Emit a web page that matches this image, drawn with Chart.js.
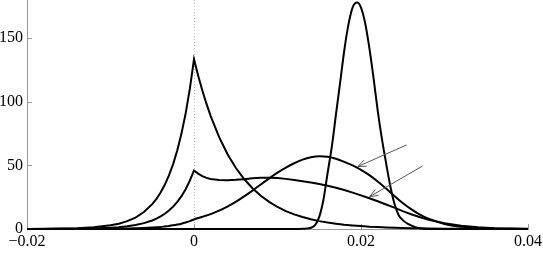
<!DOCTYPE html>
<html><head><meta charset="utf-8">
<script src="https://cdn.jsdelivr.net/npm/chart.js@4/dist/chart.umd.min.js"></script>
<style>html,body{margin:0;padding:0;background:#fff;overflow:hidden}</style>
</head><body>
<canvas id="c" width="543" height="273"></canvas>
<script>
// shared x grid for curves A, B, C
const xs = [-0.02,-0.018,-0.016,-0.014,-0.012,-0.010,-0.009,-0.008,-0.007,-0.006,-0.005,-0.0045,-0.004,-0.0035,-0.003,-0.0025,-0.002,-0.0015,-0.001,-0.0005,0,0.0005,0.001,0.0015,0.002,0.003,0.004,0.005,0.006,0.007,0.008,0.009,0.010,0.011,0.012,0.013,0.014,0.015,0.016,0.017,0.018,0.019,0.020,0.021,0.022,0.023,0.024,0.025,0.026,0.027,0.028,0.030,0.032,0.034,0.036,0.038,0.040];
// tall cusp at zero
const curveA = [0.06,0.13,0.3,0.6,1.3,2.9,4.2,6.2,9.0,13.3,19.5,23.6,28.7,34.7,42.1,51.0,61.9,75.0,90.9,110.1,133.5,120.5,108.8,98.3,88.8,72.4,59.0,48.1,39.3,32.0,26.1,21.3,17.3,14.1,11.5,9.4,7.7,6.2,5.1,4.2,3.4,2.8,2.3,1.8,1.5,1.2,1.0,0.8,0.65,0.5,0.43,0.29,0.19,0.13,0.08,0.06,0.04];
// small cusp + plateau
const curveB = [0.02,0.04,0.1,0.21,0.46,1.0,1.4,2.1,3.1,4.6,6.7,8.1,9.9,12.0,14.5,17.6,21.3,25.8,31.3,38.0,46.0,43.5,41.5,40.2,39.3,38.6,38.4,38.7,39.2,39.8,40.2,40.3,40.0,39.4,38.6,37.6,36.5,35.3,34.0,32.4,30.6,28.6,26.4,24.2,21.8,19.3,16.8,14.1,11.6,9.4,7.5,4.5,2.5,1.3,0.6,0.3,0.15];
// broad hump
const curveC = [0,0.01,0.02,0.03,0.07,0.16,0.24,0.35,0.5,0.75,1.1,1.3,1.6,2.0,2.4,2.9,3.5,4.2,5.1,6.2,7.5,8.6,9.6,10.6,11.7,14.4,17.6,21.3,25.6,30.2,35.0,39.8,44.3,48.3,51.7,54.5,56.4,57.2,56.8,55.2,52.8,50.0,46.5,42.3,37.3,31.8,26.0,20.5,15.6,11.5,8.3,4.0,1.8,0.8,0.35,0.15,0.05];
// narrow tall peak
const xD = [-0.02,0.012,0.0125,0.013,0.0135,0.014,0.0145,0.015,0.0155,0.016,0.0165,0.017,0.0175,0.018,0.0185,0.019,0.01955,0.020,0.0205,0.021,0.0215,0.022,0.0225,0.023,0.0235,0.024,0.0245,0.025,0.0255,0.026,0.0265,0.027,0.0275,0.028,0.04];
const curveD = [0,0,0,0.1,0.4,1.0,3.0,9.5,23,44,64.5,90,115,140.5,160.8,174.2,178,174.0,161.7,142.3,118.7,93,71,52,34,20,11,7,4.5,2.8,1.4,0.6,0.2,0.05,0];

const xTickValues = [-0.02, 0, 0.02, 0.04];
const xTickLabels = ['\u22120.02', '0', '0.02', '0.04'];
const yTickValues = [0, 50, 100, 150];
const yTickLabels = ['0', '50', '100', '150'];

const arrowTails = [[0.02547, 66.1], [0.02739, 49.6]];
const arrowHeads = [[0.01962, 49.1], [0.02104, 25.4]];

const pts = (xa, ya) => xa.map((x, i) => ({x, y: ya[i]}));

const decor = {
  id: 'decor',
  beforeDatasetsDraw(chart) {
    const {ctx, chartArea: a, scales: {x, y}} = chart;
    ctx.save();
    ctx.lineWidth = 1;
    ctx.strokeStyle = '#bdbdbd';
    ctx.setLineDash([1, 2]);
    const zx = Math.round(x.getPixelForValue(0)) + 0.5;
    ctx.beginPath(); ctx.moveTo(zx, a.bottom); ctx.lineTo(zx, a.top); ctx.stroke();
    ctx.setLineDash([]);
    ctx.strokeStyle = '#999';
    yTickValues.forEach(v => {
      if (v === 0) return;
      const py = Math.round(y.getPixelForValue(v)) + 0.5;
      ctx.beginPath(); ctx.moveTo(a.left, py); ctx.lineTo(a.left + 5, py); ctx.stroke();
    });
    xTickValues.forEach(v => {
      const px = Math.round(x.getPixelForValue(v)) + 0.5;
      ctx.beginPath(); ctx.moveTo(px, a.bottom); ctx.lineTo(px, a.bottom - 5); ctx.stroke();
    });
    ctx.restore();
  },
  afterDatasetsDraw(chart) {
    const {ctx, scales: {x, y}} = chart;
    ctx.save();
    ctx.strokeStyle = '#555';
    ctx.lineWidth = 1;
    arrowTails.forEach((t, i) => {
      const h = arrowHeads[i];
      const x1 = x.getPixelForValue(t[0]), y1 = y.getPixelForValue(t[1]);
      const x2 = x.getPixelForValue(h[0]), y2 = y.getPixelForValue(h[1]);
      ctx.beginPath(); ctx.moveTo(x1, y1); ctx.lineTo(x2, y2); ctx.stroke();
      const ang = Math.atan2(y1 - y2, x1 - x2);
      const L = 9, spread = 0.38;
      ctx.beginPath();
      ctx.moveTo(x2 + L * Math.cos(ang + spread), y2 + L * Math.sin(ang + spread));
      ctx.lineTo(x2, y2);
      ctx.lineTo(x2 + L * Math.cos(ang - spread), y2 + L * Math.sin(ang - spread));
      ctx.stroke();
    });
    ctx.restore();
  }
};

const lineStyle = {borderColor: '#000', borderWidth: 2, pointRadius: 0, fill: false, clip: false};

new Chart(document.getElementById('c'), {
  type: 'line',
  data: {
    datasets: [
      Object.assign({data: pts(xs, curveA), tension: 0}, lineStyle),
      Object.assign({data: pts(xs, curveB), tension: 0}, lineStyle),
      Object.assign({data: pts(xs, curveC), cubicInterpolationMode: 'monotone'}, lineStyle),
      Object.assign({data: pts(xD, curveD), cubicInterpolationMode: 'monotone'}, lineStyle)
    ]
  },
  options: {
    responsive: false,
    animation: false,
    devicePixelRatio: 1,
    layout: {padding: {left: 0, right: 15, top: 0, bottom: 0}},
    plugins: {legend: {display: false}, tooltip: {enabled: false}},
    scales: {
      x: {
        type: 'linear', min: -0.02, max: 0.04,
        afterFit(s) { s.height = 44; s.paddingLeft = 0; s.paddingRight = 0; },
        afterBuildTicks(s) { s.ticks = xTickValues.map(v => ({value: v})); },
        ticks: {callback: (v, i) => xTickLabels[i], font: {family: 'Liberation Serif', size: 16}, color: '#000', padding: 3, maxRotation: 0, autoSkip: false},
        grid: {display: false, drawTicks: false},
        border: {display: true, color: '#999', width: 1}
      },
      y: {
        type: 'linear', min: 0, max: 180,
        afterFit(s) { s.width = 27; s.paddingTop = 0; s.paddingBottom = 0; },
        afterBuildTicks(s) { s.ticks = yTickValues.map(v => ({value: v})); },
        ticks: {callback: (v, i) => yTickLabels[i], font: {family: 'Liberation Serif', size: 16}, color: '#000', padding: 4, autoSkip: false},
        grid: {display: false, drawTicks: false},
        border: {display: true, color: '#999', width: 1}
      }
    }
  },
  plugins: [decor]
});
</script>
</body></html>
